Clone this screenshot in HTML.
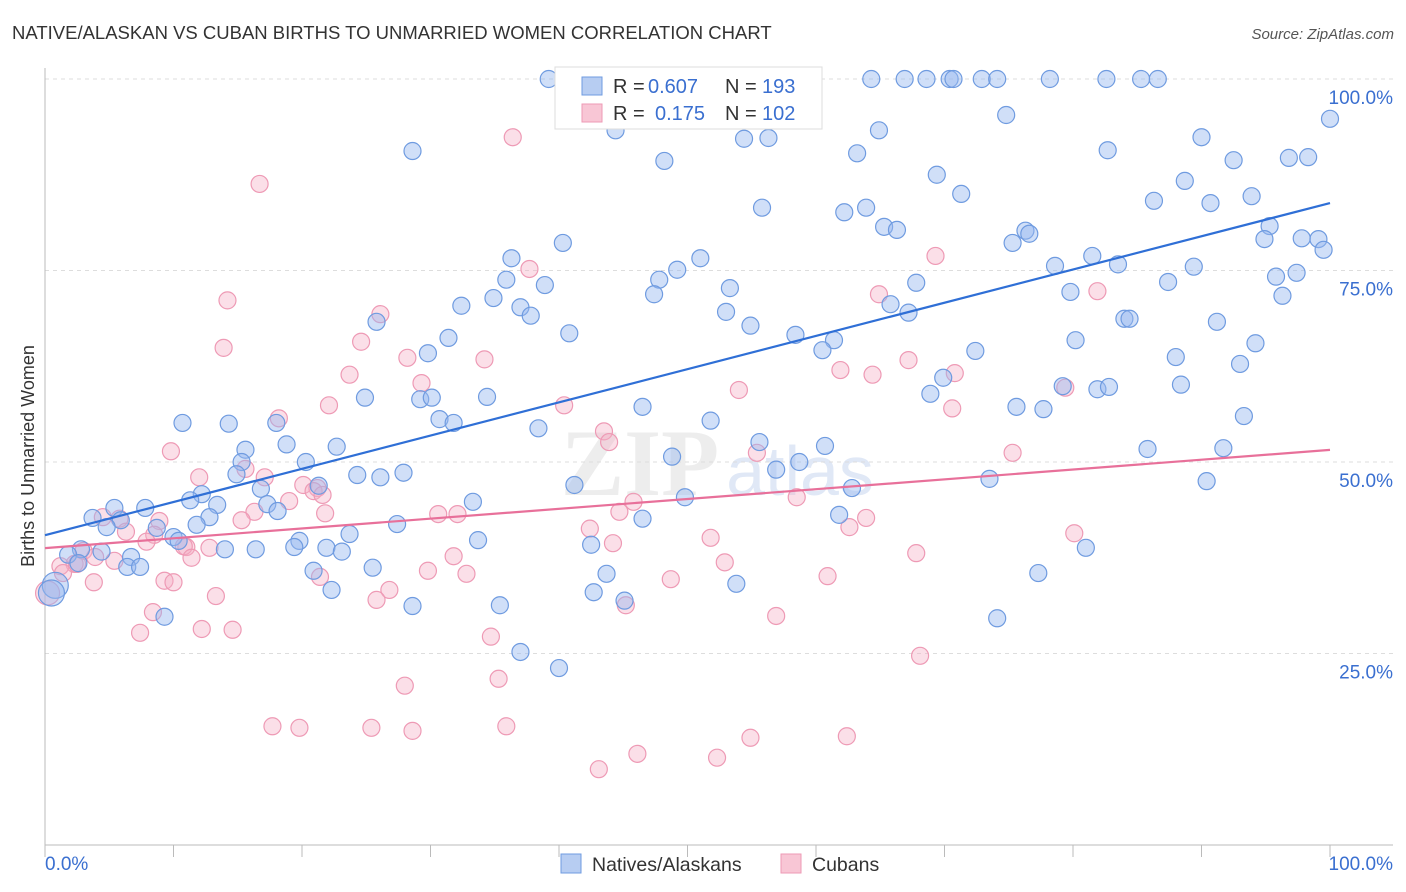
<!DOCTYPE html>
<html><head><meta charset="utf-8">
<style>
body{margin:0;background:#fff;font-family:"Liberation Sans",sans-serif;}
#wrap{position:relative;width:1406px;height:892px;overflow:hidden;}
</style></head>
<body>
<div id="wrap">
<svg id="svg" width="1406" height="892" xmlns="http://www.w3.org/2000/svg">
<text x="12" y="39" font-size="18.5" fill="#333">NATIVE/ALASKAN VS CUBAN BIRTHS TO UNMARRIED WOMEN CORRELATION CHART</text>
<text x="1394" y="39" font-size="15" fill="#555" font-style="italic" text-anchor="end">Source: ZipAtlas.com</text>
<text x="640" y="495" font-size="95" fill="#ccc" opacity="0.35" font-family="Liberation Serif" font-weight="bold" text-anchor="middle">ZIP</text>
<text x="800" y="495" font-size="70" fill="#a8c0e8" opacity="0.35" text-anchor="middle">atlas</text>
<text transform="translate(34,456) rotate(-90)" font-size="18" fill="#333" text-anchor="middle">Births to Unmarried Women</text>
<g id="grid"></g><g id="pts"></g><g id="trend"></g>
<g>
<rect x="555" y="67" width="267" height="62" fill="#fff" stroke="#ddd"/>
<rect x="582" y="77" width="20" height="18" fill="#b7cdf2" stroke="#6f9be0"/>
<rect x="582" y="104" width="20" height="18" fill="#f8c6d5" stroke="#ee9ab5"/>
<text x="613" y="93" font-size="20" fill="#333">R =</text>
<text x="648" y="93" font-size="20" fill="#3a6fd0">0.607</text>
<text x="725" y="93" font-size="20" fill="#333">N =</text>
<text x="762" y="93" font-size="20" fill="#3a6fd0">193</text>
<text x="613" y="120" font-size="20" fill="#333">R =</text>
<text x="655" y="120" font-size="20" fill="#3a6fd0">0.175</text>
<text x="725" y="120" font-size="20" fill="#333">N =</text>
<text x="762" y="120" font-size="20" fill="#3a6fd0">102</text>
</g>
<g>
<rect x="561" y="854" width="20" height="19" fill="#b7cdf2" stroke="#6f9be0"/>
<text x="592" y="871" font-size="19.5" fill="#333">Natives/Alaskans</text>
<rect x="781" y="854" width="20" height="19" fill="#f8c6d5" stroke="#ee9ab5"/>
<text x="812" y="871" font-size="19.5" fill="#333">Cubans</text>
</g>
</svg>
</div>
<script>
const yTicks=[25,50,75,100];
const yTickLabels=["25.0%","50.0%","75.0%","100.0%"];
const xTicks=[0,10,20,30,40,50,60,70,80,90,100];
const blueX=[39.2,52.4,59.4,64.3,66.9,68.6,70.4,70.7,72.9,74.1,78.2,82.6,85.3,86.6,43.4,100,74.8,44.4,64.9,28.6,54.4,56.3,90.0,48.2,63.2,82.7,92.5,96.8,98.3,69.4,88.7,71.3,93.9,86.3,90.7,55.8,62.2,63.9,65.3,66.3,95.3,76.3,76.6,75.3,94.9,97.8,99.1,99.5,40.3,36.3,51.0,49.2,81.5,83.5,78.6,89.4,95.8,97.4,87.4,96.3,47.8,38.9,35.9,67.8,53.3,47.4,79.8,34.9,32.4,37.0,37.8,53.0,65.8,67.2,25.8,84.0,84.4,91.2,40.8,54.9,58.4,61.4,60.5,80.2,31.4,94.2,72.4,29.8,88.0,93.0,69.9,79.2,81.9,82.8,88.4,68.9,24.9,29.2,30.1,34.4,46.5,75.6,77.7,93.3,10.7,14.3,18.0,30.7,31.8,51.8,38.4,18.8,55.6,60.7,85.8,91.7,15.6,22.7,15.3,20.3,48.8,58.7,56.9,14.9,24.3,26.1,27.9,73.5,90.4,41.2,16.8,62.8,21.3,12.2,11.3,49.8,13.4,33.3,5.4,7.8,17.3,3.7,5.9,18.1,12.8,46.5,61.8,11.8,27.4,4.8,8.7,23.7,33.7,10.0,10.4,19.8,21.9,14.0,16.4,19.4,23.1,42.5,81.0,2.8,4.4,1.8,6.7,2.6,6.4,7.4,20.9,25.5,43.7,77.3,22.3,53.8,42.7,45.1,28.6,35.4,9.3,74.1,37.0,40.0,0.8,0.5];
const blueY=[100,100,100,100,100,100,100,100,100,100,100,100,100,100,97.6,94.8,95.3,93.3,93.3,90.6,92.2,92.3,92.4,89.3,90.3,90.7,89.4,89.7,89.8,87.5,86.7,85.0,84.7,84.1,83.8,83.2,82.6,83.2,80.7,80.3,80.8,80.2,79.8,78.6,79.1,79.2,79.1,77.7,78.6,76.6,76.6,75.1,76.9,75.8,75.6,75.5,74.2,74.7,73.5,71.7,73.8,73.1,73.8,73.4,72.7,71.9,72.2,71.4,70.4,70.2,69.1,69.6,70.6,69.5,68.3,68.7,68.7,68.3,66.8,67.8,66.6,65.9,64.6,65.9,66.2,65.5,64.5,64.2,63.7,62.8,61.0,59.9,59.5,59.8,60.1,58.9,58.4,58.2,58.4,58.5,57.2,57.2,56.9,56.0,55.1,55.0,55.1,55.6,55.1,55.4,54.4,52.3,52.6,52.1,51.7,51.8,51.6,52.0,50.0,50.0,50.7,50.0,49.0,48.4,48.3,48.0,48.6,47.8,47.5,47.0,46.5,46.6,46.9,45.8,45.0,45.4,44.4,44.8,44.0,44.0,44.5,42.7,42.4,43.6,42.8,42.6,43.1,41.8,41.9,41.5,41.4,40.6,39.8,40.2,39.7,39.7,38.8,38.6,38.6,38.9,38.3,39.2,38.8,38.6,38.3,37.9,37.6,36.8,36.3,36.3,35.8,36.2,35.4,35.5,33.3,34.1,33.0,31.9,31.2,31.3,29.8,29.6,25.2,23.1,33.9,32.9];
const blueR=blueX.map((v,i)=>i>=blueX.length-2?13:8.5);
const pinkX=[36.4,16.7,14.2,13.9,37.7,26.1,69.3,64.9,81.9,24.6,28.2,34.2,23.7,22.1,29.3,54.0,61.9,64.4,67.2,70.8,79.4,70.6,40.4,9.8,18.2,43.5,43.9,55.4,15.6,17.1,12.0,20.1,21.2,20.9,21.6,19.0,16.3,21.8,15.3,30.6,32.1,45.8,44.7,58.5,75.3,63.9,5.8,4.5,8.9,6.3,8.5,7.9,11.0,12.8,10.8,42.4,44.2,51.8,62.6,80.1,3.0,3.9,5.4,2.3,1.2,1.4,2.5,31.8,67.8,52.9,11.4,32.8,29.8,60.9,48.7,9.3,10.0,3.8,21.4,26.8,25.8,13.3,8.4,45.2,7.4,12.2,14.6,56.9,34.7,68.1,28.0,35.3,17.7,19.8,25.4,28.6,35.9,62.4,54.9,46.1,52.3,43.1,0.2];
const pinkY=[92.4,86.3,71.1,64.9,75.2,69.3,76.9,71.9,72.3,65.7,63.6,63.4,61.4,57.4,60.3,59.4,62.0,61.4,63.3,61.6,59.7,57.0,57.4,51.4,55.7,54.0,52.6,51.2,49.1,48.0,48.0,47.0,46.6,46.2,45.7,44.9,43.5,43.3,42.4,43.2,43.2,44.8,43.5,45.4,51.2,42.7,42.6,42.8,42.3,40.9,40.5,39.6,38.9,38.8,39.0,41.3,39.4,40.1,41.5,40.7,38.4,37.6,37.1,36.7,36.4,35.5,36.7,37.7,38.1,36.9,37.5,35.4,35.8,35.1,34.7,34.5,34.3,34.3,35.0,33.3,32.0,32.5,30.4,31.3,27.7,28.2,28.1,29.9,27.2,24.7,20.8,21.7,15.5,15.3,15.3,14.9,15.5,14.2,14.0,11.9,11.4,9.9,32.9];

const NS="http://www.w3.org/2000/svg";
const X0=45,X1=1330,Y0=845,Y100=79;
const sx=v=>X0+(X1-X0)*v/100;
const sy=v=>Y0-(Y0-Y100)*v/100;
function mk(tag,attrs,parent){const e=document.createElementNS(NS,tag);for(const k in attrs)e.setAttribute(k,attrs[k]);parent.appendChild(e);return e;}
const grid=document.getElementById('grid');
yTicks.forEach((t,i)=>{
 const l=mk('line',{x1:X0,x2:1393,y1:sy(t),y2:sy(t),stroke:'#ddd','stroke-dasharray':'4,4'},grid);
 
 
 const tx=mk('text',{x:1393,y:sy(t)+25,'text-anchor':'end','font-size':19,fill:'#3a6fd0'},grid);
 tx.textContent=yTickLabels[i];
 
 
});
const ax=mk('line',{x1:X0,x2:1393,y1:Y0,y2:Y0,stroke:'#bbb'},grid);


const ay=mk('line',{x1:X0,x2:X0,y1:68,y2:Y0,stroke:'#bbb'},grid);


xTicks.forEach(t=>{
 const l=mk('line',{x1:sx(t),x2:sx(t),y1:Y0,y2:Y0+12,stroke:'#bbb'},grid);
 
 
});
const xl0=mk('text',{x:45,y:870,'font-size':19,fill:'#3a6fd0'},grid);xl0.textContent='0.0%';


const xl1=mk('text',{x:1393,y:870,'font-size':19,fill:'#3a6fd0','text-anchor':'end'},grid);xl1.textContent='100.0%';



const pts=document.getElementById('pts');
pinkX.forEach((x,i)=>{
 const c=mk('circle',{cx:sx(x),cy:sy(pinkY[i]),r:i==pinkX.length-1?12:8.5,fill:'rgba(245,175,198,0.4)',stroke:'#ee9ab5','stroke-width':1.2},pts);
 
 
});
blueX.forEach((x,i)=>{
 const c=mk('circle',{cx:sx(x),cy:sy(blueY[i]),r:blueR[i],fill:'rgba(150,185,240,0.45)',stroke:'#6f9be0','stroke-width':1.2},pts);
 
 
});
function reg(xs,ys){const n=xs.length;let mx=0,my=0;for(let i=0;i<n;i++){mx+=xs[i];my+=ys[i];}mx/=n;my/=n;let a=0,b=0;for(let i=0;i<n;i++){a+=(xs[i]-mx)*(ys[i]-my);b+=(xs[i]-mx)**2;}const s=a/b;return [my-s*mx,s];}
const tr=document.getElementById('trend');
[[blueX,blueY,'#2f6fd6','native-trend-line'],[pinkX,pinkY,'#e8709a','cuban-trend-line']].forEach(([xs,ys,col,nm])=>{
 const [b0,b1]=reg(xs,ys);
 const l=mk('line',{x1:sx(0),y1:sy(b0),x2:sx(100),y2:sy(b0+100*b1),stroke:col,'stroke-width':2.2},tr);
 
 
});
</script>
</body></html>
